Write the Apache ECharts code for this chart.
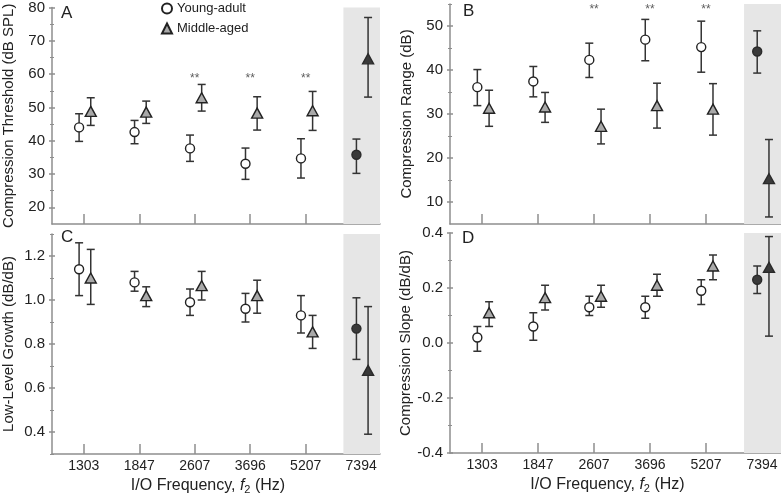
<!DOCTYPE html>
<html><head><meta charset="utf-8">
<script src="https://cdn.jsdelivr.net/npm/echarts@6/dist/echarts.min.js"></script>
<style>html,body{margin:0;padding:0;background:#fff}#c{width:781px;height:496px}</style>
</head><body><div id="c"></div>
<script>
// ---------- DATA ----------
const freqLabels = ['1303', '1847', '2607', '3696', '5207', '7394'];
const seriesNames = ['Young-adult', 'Middle-aged'];

// Panel A: Compression Threshold (dB SPL)
const aYoungMean = [44.0, 42.6, 37.7, 33.1, 34.7, 35.8];
const aYoungLow  = [39.8, 39.1, 33.8, 28.4, 28.8, 30.2];
const aYoungHigh = [48.1, 46.1, 41.7, 37.8, 40.6, 40.5];
const aMidMean   = [48.8, 48.6, 52.9, 48.3, 49.0, 64.6];
const aMidLow    = [44.6, 45.2, 48.9, 43.2, 43.1, 53.1];
const aMidHigh   = [52.9, 51.9, 56.9, 53.2, 54.8, 77.0];
const aTicks = [20, 30, 40, 50, 60, 70, 80];
const aMinorTicks = [25, 35, 45, 55, 65, 75];

// Panel B: Compression Range (dB)
const bYoungMean = [36.1, 37.4, 42.3, 46.9, 45.2, 44.2];
const bYoungLow  = [31.9, 33.9, 38.3, 42.1, 39.5, 39.3];
const bYoungHigh = [40.1, 40.8, 46.1, 51.5, 51.1, 48.9];
const bMidMean   = [31.3, 31.6, 27.2, 31.9, 31.1, 15.3];
const bMidLow    = [27.2, 28.1, 23.2, 26.8, 25.2, 6.6];
const bMidHigh   = [35.4, 34.9, 31.1, 37.0, 36.9, 24.2];
const bTicks = [10, 20, 30, 40, 50];
const bMinorTicks = [15, 25, 35, 45, 55];

// Panel C: Low-Level Growth (dB/dB)
const cYoungMean = [1.14, 1.08, 0.99, 0.96, 0.93, 0.87];
const cYoungLow  = [1.02, 1.04, 0.93, 0.90, 0.85, 0.73];
const cYoungHigh = [1.26, 1.13, 1.05, 1.03, 1.02, 1.01];
const cMidMean   = [1.10, 1.02, 1.065, 1.02, 0.855, 0.68];
const cMidLow    = [0.98, 0.97, 1.00, 0.94, 0.78, 0.39];
const cMidHigh   = [1.23, 1.06, 1.13, 1.09, 0.93, 0.97];
const cTicks = [0.4, 0.6, 0.8, 1.0, 1.2];
const cMinorTicks = [0.3, 0.5, 0.7, 0.9, 1.1, 1.3];

// Panel D: Compression Slope (dB/dB)
const dYoungMean = [0.02, 0.06, 0.13, 0.13, 0.19, 0.23];
const dYoungLow  = [-0.03, 0.01, 0.10, 0.09, 0.14, 0.18];
const dYoungHigh = [0.06, 0.11, 0.17, 0.17, 0.23, 0.28];
const dMidMean   = [0.11, 0.165, 0.17, 0.21, 0.28, 0.275];
const dMidLow    = [0.06, 0.12, 0.13, 0.17, 0.23, 0.025];
const dMidHigh   = [0.15, 0.21, 0.21, 0.25, 0.32, 0.387];
const dTicks = [-0.4, -0.2, 0.0, 0.2, 0.4];
const dMinorTicks = [-0.3, -0.1, 0.1, 0.3];

// significance (**) at these frequency indices, drawn at these levels
const sigIndex = [2, 3, 4];
const aSigLevel = 58.7;
const bSigLevel = 53.8;

// ---------- LAYOUT / STYLE ----------
const FONT = 'Liberation Sans, Arial, Helvetica, sans-serif';
const AXIS_COLOR = '#8e8e8e';
const TEXT_COLOR = '#222';
const X_MIN = 0.4265, X_MAX = 6.34;
const SHADE_FROM = 5.68;
const OFF_YOUNG = -0.085, OFF_MID = 0.125;
const highlightIndex = 5; // 7394 shown in the shaded column

const panels = [
  { id: 'A', grid: {left: 50, top: 5, width: 330, height: 219}, min: 15, max: 80,
    ticks: aTicks, minor: aMinorTicks, fmt: v => String(v),
    name: 'Compression Threshold (dB SPL)', nameGap: 36,
    young: [aYoungMean, aYoungLow, aYoungHigh], mid: [aMidMean, aMidLow, aMidHigh],
    sig: aSigLevel, xlabels: false, letter: {left: 61, top: 5} },
  { id: 'B', grid: {left: 450, top: 4, width: 331, height: 220}, min: 5, max: 55,
    ticks: bTicks, minor: bMinorTicks, fmt: v => String(v),
    name: 'Compression Range (dB)', nameGap: 36,
    young: [bYoungMean, bYoungLow, bYoungHigh], mid: [bMidMean, bMidLow, bMidHigh],
    sig: bSigLevel, xlabels: false, letter: {left: 463, top: 3} },
  { id: 'C', grid: {left: 50, top: 234, width: 330, height: 220}, min: 0.3, max: 1.3,
    ticks: cTicks, minor: cMinorTicks, fmt: v => v.toFixed(1),
    name: 'Low-Level Growth (dB/dB)', nameGap: 36,
    young: [cYoungMean, cYoungLow, cYoungHigh], mid: [cMidMean, cMidLow, cMidHigh],
    sig: null, xlabels: true, letter: {left: 61, top: 229} },
  { id: 'D', grid: {left: 450, top: 233, width: 331, height: 220}, min: -0.4, max: 0.4,
    ticks: dTicks, minor: dMinorTicks, fmt: v => v.toFixed(1),
    name: 'Compression Slope (dB/dB)', nameGap: 36,
    young: [dYoungMean, dYoungLow, dYoungHigh], mid: [dMidMean, dMidLow, dMidHigh],
    sig: null, xlabels: true, letter: {left: 462, top: 230} }
];

function errRender(params, api) {
  const x = api.value(0), lo = api.value(1), hi = api.value(2);
  const pLo = api.coord([x, lo]), pHi = api.coord([x, hi]);
  const w = 4;
  const style = {stroke: '#333', lineWidth: 1.5};
  return {type: 'group', children: [
    {type: 'line', shape: {x1: pLo[0], y1: pLo[1], x2: pHi[0], y2: pHi[1]}, style},
    {type: 'line', shape: {x1: pLo[0] - w, y1: pLo[1], x2: pLo[0] + w, y2: pLo[1]}, style},
    {type: 'line', shape: {x1: pHi[0] - w, y1: pHi[1], x2: pHi[0] + w, y2: pHi[1]}, style}
  ]};
}

const grids = [], xAxes = [], yAxes = [], series = [], titles = [];
const lineStyle = {color: AXIS_COLOR, width: 1.5};
const tickPositions = freqLabels.map((_, i) => i + 1);

panels.forEach((p, gi) => {
  grids.push(Object.assign({containLabel: false}, p.grid));
  xAxes.push({
    type: 'value', gridIndex: gi, min: X_MIN, max: X_MAX,
    axisLine: {show: true, onZero: false, lineStyle},
    axisTick: {show: true, inside: true, length: 10, customValues: tickPositions, lineStyle},
    axisLabel: {show: p.xlabels, customValues: tickPositions, margin: 5,
      formatter: v => freqLabels[Math.round(v) - 1], fontSize: 14, color: TEXT_COLOR, fontFamily: FONT},
    splitLine: {show: false},
    name: p.xlabels ? '{a|I/O Frequency, }{i|f}{s|2}{a| (Hz)}' : '',
    nameLocation: 'middle', nameGap: 23,
    nameTextStyle: {fontSize: 16, color: TEXT_COLOR, fontFamily: FONT, padding: [0, 16, 0, 0], rich: {
      a: {fontSize: 16, color: TEXT_COLOR, fontFamily: FONT},
      i: {fontSize: 16, color: TEXT_COLOR, fontFamily: FONT, fontStyle: 'italic'},
      s: {fontSize: 11, color: TEXT_COLOR, fontFamily: FONT, padding: [7, 0, 0, 0]}
    }}
  });
  const yBase = yAxes.length;
  yAxes.push({
    type: 'value', gridIndex: gi, min: p.min, max: p.max, position: 'left',
    axisLine: {show: true, lineStyle},
    axisTick: {show: false},
    axisLabel: {show: true, customValues: p.ticks, formatter: p.fmt, margin: 7,
      fontSize: 15, color: TEXT_COLOR, fontFamily: FONT},
    splitLine: {show: false},
    name: p.name, nameLocation: 'middle', nameGap: p.nameGap, nameRotate: 90,
    nameTextStyle: {fontSize: 15, color: TEXT_COLOR, fontFamily: FONT}
  });
  yAxes.push({
    type: 'value', gridIndex: gi, min: p.min, max: p.max, position: 'left', offset: -3,
    axisLine: {show: false}, axisLabel: {show: false}, splitLine: {show: false},
    axisTick: {show: true, length: 6, customValues: p.ticks, lineStyle}
  });
  yAxes.push({
    type: 'value', gridIndex: gi, min: p.min, max: p.max, position: 'left', offset: -2,
    axisLine: {show: false}, axisLabel: {show: false}, splitLine: {show: false},
    axisTick: {show: true, length: 4, customValues: p.minor, lineStyle: {color: AXIS_COLOR, width: 1}}
  });

  // shaded column
  series.push({
    type: 'scatter', xAxisIndex: gi, yAxisIndex: yBase, data: [], z: 0, silent: true,
    markArea: {silent: true, itemStyle: {color: '#e6e6e6'},
      data: [[{xAxis: SHADE_FROM}, {xAxis: X_MAX}]]}
  });

  const groups = [[p.young, OFF_YOUNG], [p.mid, OFF_MID]];
  groups.forEach(([arr, off]) => {
    series.push({
      type: 'custom', xAxisIndex: gi, yAxisIndex: yBase, z: 2, silent: true,
      renderItem: errRender, encode: {x: 0, y: [1, 2]},
      data: arr[0].map((_, i) => [i + 1 + off, arr[1][i], arr[2][i]])
    });
  });
  // markers
  series.push({
    name: seriesNames[0], type: 'scatter', xAxisIndex: gi, yAxisIndex: yBase, z: 4,
    symbol: 'circle', symbolSize: 9,
    itemStyle: {color: '#ffffff', borderColor: '#222', borderWidth: 1.4, opacity: 1},
    data: p.young[0].map((v, i) => i === highlightIndex
      ? {value: [i + 1 + OFF_YOUNG, v], itemStyle: {color: '#3a3a3a', borderColor: '#2a2a2a'}}
      : [i + 1 + OFF_YOUNG, v])
  });
  series.push({
    name: seriesNames[1], type: 'scatter', xAxisIndex: gi, yAxisIndex: yBase, z: 4,
    symbol: 'triangle', symbolSize: [11, 10],
    itemStyle: {color: '#a9a9a9', borderColor: '#222', borderWidth: 1.4, opacity: 1},
    data: p.mid[0].map((v, i) => i === highlightIndex
      ? {value: [i + 1 + OFF_MID, v], itemStyle: {color: '#3a3a3a', borderColor: '#2a2a2a'}}
      : [i + 1 + OFF_MID, v])
  });
  if (p.sig !== null) {
    series.push({
      type: 'scatter', xAxisIndex: gi, yAxisIndex: yBase, z: 5, silent: true,
      symbolSize: 1, itemStyle: {color: 'rgba(0,0,0,0)'},
      label: {show: true, position: 'inside', formatter: '**', fontSize: 12, color: '#333', fontFamily: FONT},
      data: sigIndex.map(i => [i + 1, p.sig])
    });
  }
  titles.push({text: p.id, left: p.letter.left, top: p.letter.top, padding: 0,
    textStyle: {fontSize: 17, fontWeight: 'normal', color: TEXT_COLOR, fontFamily: FONT}});
});

const chart = echarts.init(document.getElementById('c'), null, {renderer: 'canvas'});
chart.setOption({
  animation: false,
  backgroundColor: '#ffffff',
  textStyle: {fontFamily: FONT},
  title: titles,
  legend: {
    data: seriesNames, orient: 'vertical', left: 161, top: 2, padding: 0,
    itemWidth: 10, itemHeight: 10, itemGap: 7, selectedMode: false,
    textStyle: {fontSize: 13, color: TEXT_COLOR, fontFamily: FONT, padding: [0, 0, 0, 0]}
  },
  grid: grids, xAxis: xAxes, yAxis: yAxes, series: series
});
</script></body></html>
